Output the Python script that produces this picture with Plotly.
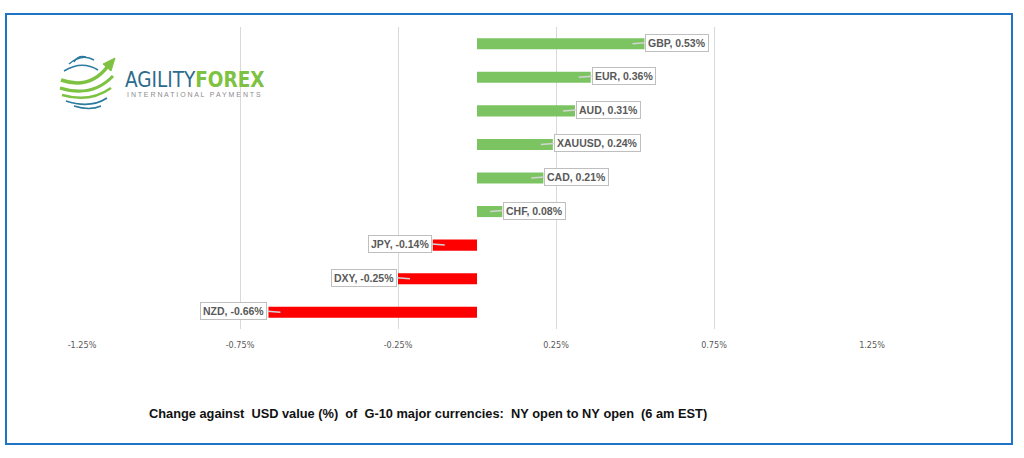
import plotly.graph_objects as go

W, H = 1024, 458

currencies = ["GBP", "EUR", "AUD", "XAUUSD", "CAD", "CHF", "JPY", "DXY", "NZD"]
changes = [0.53, 0.36, 0.31, 0.24, 0.21, 0.08, -0.14, -0.25, -0.66]
tick_vals = [-1.25, -0.75, -0.25, 0.25, 0.75, 1.25]
tick_text = ["-1.25%", "-0.75%", "-0.25%", "0.25%", "0.75%", "1.25%"]
title_text = "Change against  USD value (%)  of  G-10 major currencies:  NY open to NY open  (6 am EST)"

GREEN = "#7cc462"
RED = "#ff0000"
NARROW = "Liberation Sans Narrow, DejaVu Sans Condensed, Liberation Sans"


def px(x):
    return x / W


def py(y):
    return 1 - y / H


colors = [GREEN if v >= 0 else RED for v in changes]

fig = go.Figure()
fig.add_trace(go.Bar(
    x=changes, y=currencies, orientation="h",
    marker=dict(color=colors, line=dict(width=0)),
    width=0.33, hoverinfo="skip", showlegend=False,
))

annotations = []
for c, v in zip(currencies, changes):
    pos = v >= 0
    annotations.append(dict(
        x=v - 0.038 if pos else v + 0.038, y=c, xref="x", yref="y",
        text="<b>%s, %.2f%%</b>" % (c, v),
        showarrow=True, arrowhead=0, arrowwidth=1.5, arrowcolor="#d4d4d4",
        ax=13 if pos else -13, ay=-1,
        xanchor="left" if pos else "right", yanchor="middle",
        bgcolor="white", bordercolor="#bfbfbf", borderwidth=1, borderpad=2,
        font=dict(family="Liberation Sans, Arial", size=10.5, color="#595959"),
    ))

# title
annotations.append(dict(
    x=px(428), y=py(413), xref="paper", yref="paper", showarrow=False,
    text="<b>" + title_text.replace(" ", "\u00a0") + "</b>",
    xanchor="center", yanchor="middle",
    font=dict(family="Liberation Sans, Arial", size=12.8, color="#111111"),
))

# logo text
annotations.append(dict(
    x=px(123), y=py(80), xref="paper", yref="paper", showarrow=False,
    text="<span style='color:#2d6b8c'>AGILITY</span><span style='color:#7dc242'><b>FOREX</b></span>",
    xanchor="left", yanchor="middle",
    font=dict(family=NARROW, size=20.5),
))
annotations.append(dict(
    x=px(125), y=py(95), xref="paper", yref="paper", showarrow=False,
    text=" ".join("INTERNATIONAL") + "   " + " ".join("PAYMENTS"),
    xanchor="left", yanchor="middle",
    font=dict(family="Liberation Sans, Arial", size=7, color="#8c8c8c"),
))

shapes = []
# outer frame
shapes.append(dict(type="rect", xref="paper", yref="paper",
                   x0=px(6), y0=py(444), x1=px(1012), y1=py(14),
                   line=dict(color="#1f74c4", width=2), fillcolor="rgba(0,0,0,0)"))


def curve(p0, c, p1, color, width):
    path = "M %f,%f Q %f,%f %f,%f" % (px(p0[0]), py(p0[1]), px(c[0]), py(c[1]), px(p1[0]), py(p1[1]))
    return dict(type="path", xref="paper", yref="paper", path=path,
                line=dict(color=color, width=width))


BLUE_L = "#2d7aa0"
GREEN_L = "#7dc242"
shapes += [
    curve((74, 62), (78, 55), (86, 57), BLUE_L, 1.5),
    curve((69, 64), (82, 53), (94, 60), BLUE_L, 1.5),
    curve((64, 71), (82, 60), (98, 70), BLUE_L, 1.5),
    curve((61, 80), (90, 90), (108, 66), GREEN_L, 3.5),
    curve((60, 88), (92, 98), (113, 76), GREEN_L, 3),
    curve((62, 95), (90, 103), (111, 88), GREEN_L, 2.5),
    curve((66, 101), (90, 109), (107, 98), BLUE_L, 1.8),
    curve((74, 106), (90, 111), (101, 106), BLUE_L, 1.5),
    dict(type="path", xref="paper", yref="paper",
         path="M %f,%f L %f,%f L %f,%f Z" % (px(103), py(64), px(115), py(58), px(111), py(71)),
         fillcolor=GREEN_L, line=dict(color=GREEN_L, width=1)),
]

fig.update_layout(
    width=W, height=H, autosize=False,
    margin=dict(l=0, r=0, t=0, b=0, pad=0, autoexpand=False),
    paper_bgcolor="white", plot_bgcolor="white",
    xaxis=dict(range=[-1.25, 1.25], domain=[px(82), px(872)],
               tickvals=tick_vals, ticktext=tick_text, automargin=False,
               showgrid=True, gridcolor="#d9d9d9", gridwidth=1,
               zeroline=False, showline=False, ticks="",
               ticklabelstandoff=9,
               tickfont=dict(family=NARROW, size=9, color="#595959")),
    yaxis=dict(domain=[py(329), py(27)], categoryorder="array", automargin=False,
               categoryarray=currencies[::-1], showticklabels=False,
               showgrid=False, zeroline=False, showline=False, ticks=""),
    bargap=0.67,
    annotations=annotations,
    shapes=shapes,
)

fig.write_html(
    "out.html",
    config=dict(displayModeBar=False, responsive=False),
    post_script="document.body.style.margin='0';document.body.style.overflow='hidden';",
)
